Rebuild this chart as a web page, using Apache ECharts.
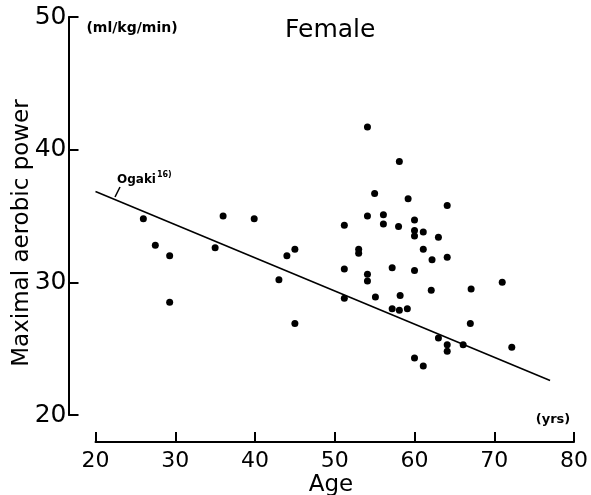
<!DOCTYPE html>
<html>
<head>
<meta charset="utf-8">
<script src="https://cdn.jsdelivr.net/npm/echarts@6/dist/echarts.min.js"></script>
<style>
html,body{margin:0;padding:0;background:#fff;}
#chart{width:591px;height:495px;}
</style>
</head>
<body>
<div id="chart"></div>
<script>
// ---- data ----
const ages = [26.0, 27.5, 29.3, 29.3, 35.0, 36.0, 39.9, 43.0, 44.0, 45.0, 45.0,
  54.1, 58.1, 55.0, 59.2, 64.1, 54.1, 56.1, 56.1, 51.2, 58.0, 60.0, 60.0, 60.0,
  61.1, 63.0, 53.0, 53.0, 61.1, 62.2, 64.1, 51.2, 57.2, 60.0, 54.1, 54.1, 62.1,
  67.1, 71.0, 51.2, 55.1, 58.2, 57.2, 58.1, 59.1, 67.0, 63.0, 64.1, 64.1, 66.1,
  72.2, 60.0, 61.1];
const power = [34.8, 32.8, 32.0, 28.5, 32.6, 35.0, 34.8, 30.2, 32.0, 32.5, 26.9,
  41.7, 39.1, 36.7, 36.3, 35.8, 35.0, 35.1, 34.4, 34.3, 34.2, 34.7, 33.9, 33.5,
  33.8, 33.4, 32.5, 32.2, 32.5, 31.7, 31.9, 31.0, 31.1, 30.9, 30.6, 30.1, 29.4,
  29.5, 30.0, 28.8, 28.9, 29.0, 28.0, 27.9, 28.0, 26.9, 25.8, 25.3, 24.8, 25.3,
  25.1, 24.3, 23.7];
const lineAges = [20, 77];
const linePower = [36.85, 22.6];
const xTicks = [20, 30, 40, 50, 60, 70, 80];
const yTicks = [20, 30, 40, 50];
const titleText = 'Female';
const yName = 'Maximal aerobic power';
const xName = 'Age';
const yUnit = '(ml/kg/min)';
const xUnit = '(yrs)';
const refName = 'Ogaki';
const refSup = '16)';

const scatterData = ages.map((a, i) => [a, power[i]]);
const lineData = lineAges.map((a, i) => [a, linePower[i]]);

const numFont = '"DejaVu Sans", sans-serif';

const chart = echarts.init(document.getElementById('chart'), null, {renderer: 'canvas'});
chart.setOption({
  backgroundColor: '#ffffff',
  animation: false,
  grid: {left: 95.5, right: 13, top: 17, bottom: 80, containLabel: false},
  xAxis: {
    type: 'value', min: xTicks[0], max: xTicks[xTicks.length - 1], interval: 10,
    offset: 27,
    axisLine: {show: true, lineStyle: {color: '#000', width: 2}},
    axisTick: {show: true, inside: true, length: 10, lineStyle: {color: '#000', width: 2}},
    axisLabel: {color: '#000', fontSize: 22, fontFamily: numFont, margin: 8},
    splitLine: {show: false}
  },
  yAxis: {
    type: 'value', min: yTicks[0], max: yTicks[yTicks.length - 1], interval: 10,
    offset: 27,
    axisLine: {show: true, lineStyle: {color: '#000', width: 2}},
    axisTick: {show: true, inside: true, length: 10, lineStyle: {color: '#000', width: 2}},
    axisLabel: {color: '#000', fontSize: 25, fontFamily: numFont, margin: 2},
    splitLine: {show: false}
  },
  series: [
    {
      type: 'line', data: lineData, showSymbol: false, symbol: 'none',
      lineStyle: {color: '#000', width: 1.6}, z: 2
    },
    {
      type: 'scatter', data: scatterData, symbol: 'circle', symbolSize: 7,
      itemStyle: {color: '#000', opacity: 1}, z: 3
    }
  ],
  graphic: [
    {type: 'text', x: 285, y: 30, style: {text: titleText, font: '25px "DejaVu Sans", sans-serif',
      fill: '#000', textAlign: 'left', textVerticalAlign: 'middle'}},
    {type: 'text', x: 132, y: 28, style: {text: yUnit, font: 'bold 14px "DejaVu Sans", sans-serif',
      fill: '#000', textAlign: 'center', textVerticalAlign: 'middle'}},
    {type: 'text', x: 553, y: 420, style: {text: xUnit, font: 'bold 13px "DejaVu Sans", sans-serif',
      fill: '#000', textAlign: 'center', textVerticalAlign: 'middle'}},
    {type: 'text', x: 22, y: 233, rotation: Math.PI / 2, style: {text: yName,
      font: '23px "DejaVu Sans", sans-serif', fill: '#000', textAlign: 'center', textVerticalAlign: 'middle'}},
    {type: 'text', x: 331, y: 485, style: {text: xName, font: '23px "DejaVu Sans", sans-serif',
      fill: '#000', textAlign: 'center', textVerticalAlign: 'middle'}},
    {type: 'text', x: 117, y: 178, style: {
      text: '{a|' + refName + '}{s|' + refSup + '}',
      rich: {
        a: {font: 'bold 12px "DejaVu Sans", sans-serif', fill: '#000', verticalAlign: 'bottom'},
        s: {font: 'bold 8px "DejaVu Sans", sans-serif', fill: '#000', padding: [0, 0, 7, 1], verticalAlign: 'bottom'}
      },
      textAlign: 'left', textVerticalAlign: 'middle'}},
    {type: 'line', shape: {x1: 115, y1: 197, x2: 120, y2: 187}, style: {stroke: '#000', lineWidth: 1.5}}
  ]
});
</script>
</body>
</html>
